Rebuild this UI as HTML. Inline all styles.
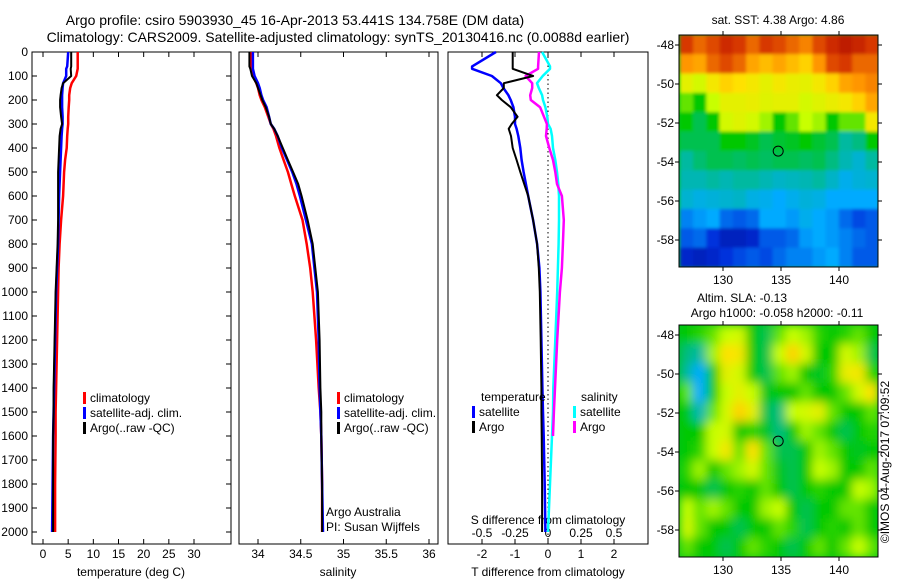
<!DOCTYPE html>
<html><head><meta charset="utf-8"><style>
body{margin:0;background:#fff;}
svg{display:block;font-family:"Liberation Sans","DejaVu Sans",sans-serif;}
</style></head><body>
<svg id="c" width="900" height="580" viewBox="0 0 900 580">
<text x="295" y="25" font-size="14" text-anchor="middle">Argo profile: csiro 5903930_45 16-Apr-2013 53.441S 134.758E (DM data)</text>
<text x="338" y="42" font-size="14" text-anchor="middle">Climatology: CARS2009. Satellite-adjusted climatology: synTS_20130416.nc (0.0088d earlier)</text>
<text x="778" y="24" font-size="12" text-anchor="middle">sat. SST: 4.38 Argo: 4.86</text>
<text x="742" y="302" font-size="12" text-anchor="middle">Altim. SLA: -0.13</text>
<text x="777" y="317" font-size="12" text-anchor="middle">Argo h1000: -0.058 h2000: -0.11</text>
<text transform="translate(889,462) rotate(-90)" font-size="12" text-anchor="middle">©IMOS 04-Aug-2017 07:09:52</text>
<g id="g"></g>
</svg>
<script>
// depth levels (m)
const depths=[0,60,70,100,130,150,180,200,230,270,300,320,350,400,450,500,550,600,700,800,900,1000,1200,1400,1500,1600,1800,2000];
// temperature profiles (deg C)
const tClim=[6.9,6.9,6.9,6.6,5.7,5.4,5.2,5.2,5.1,5.0,5.0,4.9,4.8,4.7,4.4,4.2,4.1,4.0,3.6,3.3,3.1,3.0,2.8,2.6,2.5,2.5,2.4,2.4];
const tSat=[5.0,4.8,4.6,4.6,4.0,3.9,3.8,3.8,3.8,3.9,3.9,3.8,3.7,3.6,3.5,3.4,3.3,3.2,3.1,3.0,2.8,2.6,2.4,2.2,2.1,2.0,1.9,1.8];
const tArgo=[5.6,5.6,5.5,5.6,4.0,3.7,3.5,3.4,3.4,3.6,3.8,3.5,3.3,3.2,3.1,3.0,3.0,3.0,3.0,2.9,2.7,2.5,2.3,2.1,2.1,2.0,2.0,2.0];
// salinity profiles
const sClim=[33.92,33.92,33.92,33.94,33.98,34.0,34.02,34.04,34.08,34.12,34.15,34.18,34.21,34.25,34.3,34.35,34.39,34.43,34.52,34.57,34.61,34.64,34.68,34.71,34.73,34.74,34.75,34.75];
const sSat=[33.94,33.94,33.94,33.96,34.0,34.02,34.04,34.06,34.1,34.13,34.15,34.19,34.23,34.28,34.34,34.4,34.45,34.49,34.56,34.63,34.66,34.69,34.71,34.72,34.73,34.74,34.75,34.76];
const sArgo=[33.9,33.9,33.91,33.93,33.98,34.0,34.03,34.05,34.09,34.13,34.15,34.19,34.23,34.29,34.35,34.41,34.47,34.51,34.58,34.64,34.67,34.7,34.72,34.73,34.74,34.74,34.75,34.75];
// differences from climatology
const dTSat=[-1.58,-2.3,-2.3,-1.7,-1.43,-1.35,-1.2,-1.13,-1.05,-1.0,-1.0,-0.95,-0.9,-0.84,-0.8,-0.74,-0.67,-0.6,-0.45,-0.33,-0.26,-0.23,-0.2,-0.17,-0.15,-0.13,-0.1,-0.08];
const dTArgo=[-1.07,-1.07,-1.07,-0.45,-1.34,-1.34,-1.55,-1.4,-1.13,-0.92,-1.1,-1.19,-1.12,-1.07,-0.95,-0.84,-0.72,-0.6,-0.45,-0.33,-0.28,-0.25,-0.22,-0.2,-0.2,-0.19,-0.18,-0.18];
const dSSat=[-0.045,0.015,0.015,-0.04,-0.083,-0.07,-0.045,-0.038,-0.02,-0.005,0,0.02,0.03,0.038,0.055,0.068,0.078,0.083,0.083,0.08,0.075,0.07,0.055,0.04,0.038,0.03,0.015,0];
const dSArgo=[-0.068,-0.075,-0.075,-0.17,-0.12,-0.12,-0.135,-0.13,-0.06,-0.03,-0.008,-0.01,-0.015,0.01,0.038,0.055,0.068,0.105,0.12,0.113,0.105,0.09,0.07,0.053,0.045,0.038,null,null];
const depthTicks=[0,100,200,300,400,500,600,700,800,900,1000,1100,1200,1300,1400,1500,1600,1700,1800,1900,2000];
const tTicks=[0,5,10,15,20,25,30];
const sTicks=[34,34.5,35,35.5,36];
const dTTicks=[-2,-1,0,1,2];
const dSTicks=[-0.5,-0.25,0,0.25,0.5];
const lonTicks=[130,135,140];
const latTicks=[-48,-50,-52,-54,-56,-58];
const argoLon=134.758, argoLat=-53.441;
const sstGrid=[
[0.9,0.85,0.88,0.92,0.9,0.85,0.9,0.88,0.85,0.82,0.88,0.92,0.95,0.93,0.9],
[0.8,0.78,0.85,0.88,0.85,0.78,0.75,0.78,0.75,0.72,0.8,0.88,0.9,0.85,0.85],
[0.65,0.62,0.68,0.72,0.7,0.68,0.65,0.68,0.66,0.65,0.68,0.72,0.78,0.8,0.82],
[0.55,0.5,0.6,0.65,0.65,0.66,0.64,0.65,0.65,0.62,0.64,0.66,0.68,0.72,0.78],
[0.5,0.45,0.5,0.62,0.64,0.62,0.58,0.5,0.55,0.6,0.58,0.5,0.55,0.55,0.68],
[0.45,0.45,0.45,0.5,0.5,0.48,0.45,0.47,0.48,0.5,0.47,0.45,0.4,0.42,0.5],
[0.4,0.43,0.45,0.45,0.44,0.45,0.44,0.45,0.45,0.44,0.45,0.42,0.38,0.35,0.4],
[0.38,0.38,0.4,0.38,0.4,0.4,0.38,0.36,0.37,0.38,0.4,0.36,0.32,0.34,0.35],
[0.35,0.33,0.34,0.35,0.36,0.33,0.32,0.3,0.32,0.34,0.33,0.3,0.3,0.3,0.3],
[0.25,0.28,0.3,0.22,0.2,0.22,0.3,0.3,0.28,0.32,0.3,0.28,0.22,0.18,0.2],
[0.2,0.22,0.15,0.1,0.1,0.12,0.2,0.2,0.22,0.28,0.3,0.28,0.25,0.22,0.2],
[0.12,0.1,0.12,0.15,0.18,0.2,0.18,0.22,0.25,0.25,0.28,0.3,0.25,0.2,0.2]];
const slaGrid=[
[0.5,0.52,0.55,0.6,0.62,0.5,0.45,0.55,0.6,0.58,0.52,0.5,0.52,0.55,0.5],
[0.42,0.4,0.58,0.7,0.68,0.5,0.45,0.6,0.72,0.62,0.5,0.5,0.62,0.58,0.45],
[0.4,0.3,0.5,0.65,0.62,0.5,0.45,0.55,0.58,0.5,0.48,0.52,0.66,0.68,0.52],
[0.55,0.3,0.5,0.6,0.65,0.6,0.48,0.5,0.5,0.55,0.5,0.5,0.55,0.62,0.7],
[0.5,0.38,0.55,0.62,0.72,0.65,0.45,0.42,0.6,0.62,0.65,0.55,0.5,0.5,0.55],
[0.5,0.5,0.6,0.62,0.5,0.52,0.48,0.42,0.5,0.58,0.55,0.5,0.45,0.5,0.52],
[0.5,0.52,0.6,0.68,0.55,0.7,0.55,0.45,0.45,0.5,0.58,0.55,0.5,0.48,0.5],
[0.52,0.58,0.5,0.55,0.58,0.62,0.55,0.48,0.45,0.5,0.6,0.58,0.5,0.5,0.55],
[0.5,0.5,0.45,0.5,0.52,0.5,0.55,0.5,0.45,0.5,0.52,0.5,0.5,0.6,0.58],
[0.6,0.55,0.58,0.55,0.5,0.5,0.58,0.6,0.5,0.45,0.5,0.5,0.55,0.55,0.5],
[0.62,0.55,0.5,0.5,0.45,0.5,0.5,0.55,0.52,0.45,0.5,0.52,0.5,0.55,0.5],
[0.55,0.5,0.5,0.45,0.5,0.55,0.52,0.5,0.45,0.5,0.55,0.5,0.55,0.6,0.55]];

const NS='http://www.w3.org/2000/svg';
const G=document.getElementById('g');
function mk(tag,attrs,parent){const e=document.createElementNS(NS,tag);for(const k in attrs)e.setAttribute(k,attrs[k]);(parent||G).appendChild(e);return e;}
function txt(x,y,s,size,anchor,parent){const t=mk('text',{x:x,y:y,'font-size':size,'text-anchor':anchor||'middle'},parent);t.textContent=s;return t;}

const PT=52,PB=544;
const yD=d=>PT+d*0.24;
function linX(v0,x0,v1,x1){return v=>x0+(v-v0)*(x1-x0)/(v1-v0);}
const xT=linX(0,43,30,194);
const xS=linX(34,258,36,429);
const xDT=linX(0,548,2,614);
const xDS=v=>xDT(v*4);

function panel(x0,x1,name){
  const r=mk('rect',{x:x0,y:PT,width:x1-x0,height:PB-PT,fill:'#fff',stroke:'#000','stroke-width':1});
  
  
}
function series(vals,xf,color,name,w){
  let pts=[];
  for(let i=0;i<depths.length;i++){if(vals[i]===null)continue;pts.push(xf(vals[i]).toFixed(1)+','+yD(depths[i]).toFixed(1));}
  const p=mk('polyline',{points:pts.join(' '),fill:'none',stroke:color,'stroke-width':w||2,'stroke-linejoin':'round'});
  
  
}
function xAxis(ticks,xf,y,name){
  ticks.forEach(t=>{
    const x=xf(t);
    mk('line',{x1:x,y1:PB,x2:x,y2:PB-5,stroke:'#000'});
    mk('line',{x1:x,y1:PT,x2:x,y2:PT+5,stroke:'#000'});
    const l=txt(x,y,String(t),12);
    
    
  });
}
function legend(x,y,items,gname){
  const g=mk('g',{});
  
  
  items.forEach((it,i)=>{
    mk('rect',{x:x,y:y+i*15-10,width:3,height:12,fill:it[1]},g);
    txt(x+7,y+i*15,it[0],12,'start',g);
  });
}

// Panel 1: temperature
panel(32,231,'temperature-panel');
depthTicks.forEach(d=>{
  mk('line',{x1:32,y1:yD(d),x2:37,y2:yD(d),stroke:'#000'});
  mk('line',{x1:231,y1:yD(d),x2:226,y2:yD(d),stroke:'#000'});
  const l=txt(28,yD(d)+4,String(d),12,'end');
  
  
});
xAxis(tTicks,xT,558,'temperature');
let t=txt(131,576,'temperature (deg C)',12);


series(tClim,xT,'#f00','temp-climatology-line',2.5);
series(tSat,xT,'#00f','temp-satellite-line',2.5);
series(tArgo,xT,'#000','temp-argo-line',2);
legend(83,402,[['climatology','#f00'],['satellite-adj. clim.','#00f'],['Argo(..raw -QC)','#000']],'temperature-legend');

// Panel 2: salinity
panel(239,438,'salinity-panel');
xAxis(sTicks,xS,558,'salinity');
t=txt(338,576,'salinity',12);


series(sClim,xS,'#f00','sal-climatology-line',2.5);
series(sSat,xS,'#00f','sal-satellite-line',2.5);
series(sArgo,xS,'#000','sal-argo-line',2);
legend(337,402,[['climatology','#f00'],['satellite-adj. clim.','#00f'],['Argo(..raw -QC)','#000']],'salinity-legend');
t=txt(326,516,'Argo Australia',12,'start');


t=txt(326,531,'PI: Susan Wijffels',12,'start');



// Panel 3: differences
panel(448,648,'difference-panel');
mk('line',{x1:xDT(0),y1:PT,x2:xDT(0),y2:PB,stroke:'#000','stroke-dasharray':'1.5,3'});
xAxis(dTTicks,xDT,558,'t-difference');
dSTicks.forEach(s=>{const l=txt(xDS(s),537,String(s),12);});
t=txt(548,524,'S difference from climatology',12);


t=txt(548,576,'T difference from climatology',12);


series(dSSat,xDS,'#0ff','s-diff-satellite-line',2.5);
series(dSArgo,xDS,'#f0f','s-diff-argo-line',2.5);
series(dTSat,xDT,'#00f','t-diff-satellite-line',2.5);
series(dTArgo,xDT,'#000','t-diff-argo-line',2);
t=txt(481,401,'temperature',12,'start');


legend(472,416,[['satellite','#00f'],['Argo','#000']],'t-diff-legend');
t=txt(581,401,'salinity',12,'start');


legend(573,416,[['satellite','#0ff'],['Argo','#f0f']],'s-diff-legend');

// Maps - colormap stops (value, r, g, b)
const cmStops=[[0,0,0,130],[0.15,0,50,220],[0.3,0,170,255],[0.4,0,185,160],[0.5,0,200,0],[0.6,200,255,0],[0.7,255,225,0],[0.8,255,150,0],[0.9,215,55,0],[1,165,0,0]];
function cmap(v){
  v=Math.max(0,Math.min(1,v));
  for(let i=1;i<cmStops.length;i++){
    const a=cmStops[i-1],b=cmStops[i];
    if(v<=b[0]){const f=(v-a[0])/(b[0]-a[0]);
      return 'rgb('+Math.round(a[1]+f*(b[1]-a[1]))+','+Math.round(a[2]+f*(b[2]-a[2]))+','+Math.round(a[3]+f*(b[3]-a[3]))+')';}
  }
  return 'rgb(165,0,0)';
}
const MX0=679,MX1=878;
const xLon=linX(130,723,140,839);
const LON0=126.3,LAT0=-47.49;
function map(top,grid,name,blur){
  const yLat=lat=>top+10+(-48-lat)*19.5;
  const h=232;
  const g=mk('g',{});
  
  
  const cid='clip'+name;
  const cp=mk('clipPath',{id:cid},g);
  mk('rect',{x:MX0,y:top,width:MX1-MX0,height:h},cp);
  const inner=mk('g',{'clip-path':'url(#'+cid+')'},g);
  mk('rect',{x:MX0,y:top,width:MX1-MX0,height:h,fill:cmap(0.48)},inner);
  let cg=inner;
  if(blur){
    const fid='f'+name;
    const f=mk('filter',{id:fid,x:'-10%',y:'-10%',width:'120%',height:'120%'},g);
    mk('feGaussianBlur',{stdDeviation:blur,edgeMode:'duplicate'},f);
    cg=mk('g',{filter:'url(#'+fid+')'},inner);
  }
  const rows=grid.length,cols=grid[0].length;
  const lonStep=(143.45-LON0)/cols, latStep=(59.4+LAT0)/rows;
  for(let r=0;r<rows;r++)for(let c=0;c<cols;c++){
    const xa=xLon(LON0+c*lonStep), xb=xLon(LON0+(c+1)*lonStep);
    const ya=yLat(LAT0-r*latStep), yb=yLat(LAT0-(r+1)*latStep);
    const cell=mk('rect',{x:xa-0.3,y:ya-0.3,width:xb-xa+0.6,height:yb-ya+0.6,fill:cmap(grid[r][c])},cg);
    
    
  }
  mk('rect',{x:MX0,y:top,width:MX1-MX0,height:h,fill:'none',stroke:'#000'},g);
  lonTicks.forEach(lon=>{
    const x=xLon(lon);
    mk('line',{x1:x,y1:top,x2:x,y2:top-4,stroke:'#000'},g);
    mk('line',{x1:x,y1:top+h,x2:x,y2:top+h+4,stroke:'#000'},g);
    const l=txt(x,top+h+17,String(lon),12,'middle',g);
    
    
  });
  latTicks.forEach(lat=>{
    const y=yLat(lat);
    mk('line',{x1:MX0,y1:y,x2:MX0-4,y2:y,stroke:'#000'},g);
    mk('line',{x1:MX1,y1:y,x2:MX1+4,y2:y,stroke:'#000'},g);
    const l=txt(674,y+4,String(lat),12,'end',g);
    
    
  });
  const c=mk('circle',{cx:xLon(argoLon),cy:yLat(argoLat),r:5,fill:'none',stroke:'#000','stroke-width':1},g);
  
  
}
map(35,sstGrid,'sst-map',1.5);
map(325,slaGrid,'sla-map',5);
</script>
</body></html>
